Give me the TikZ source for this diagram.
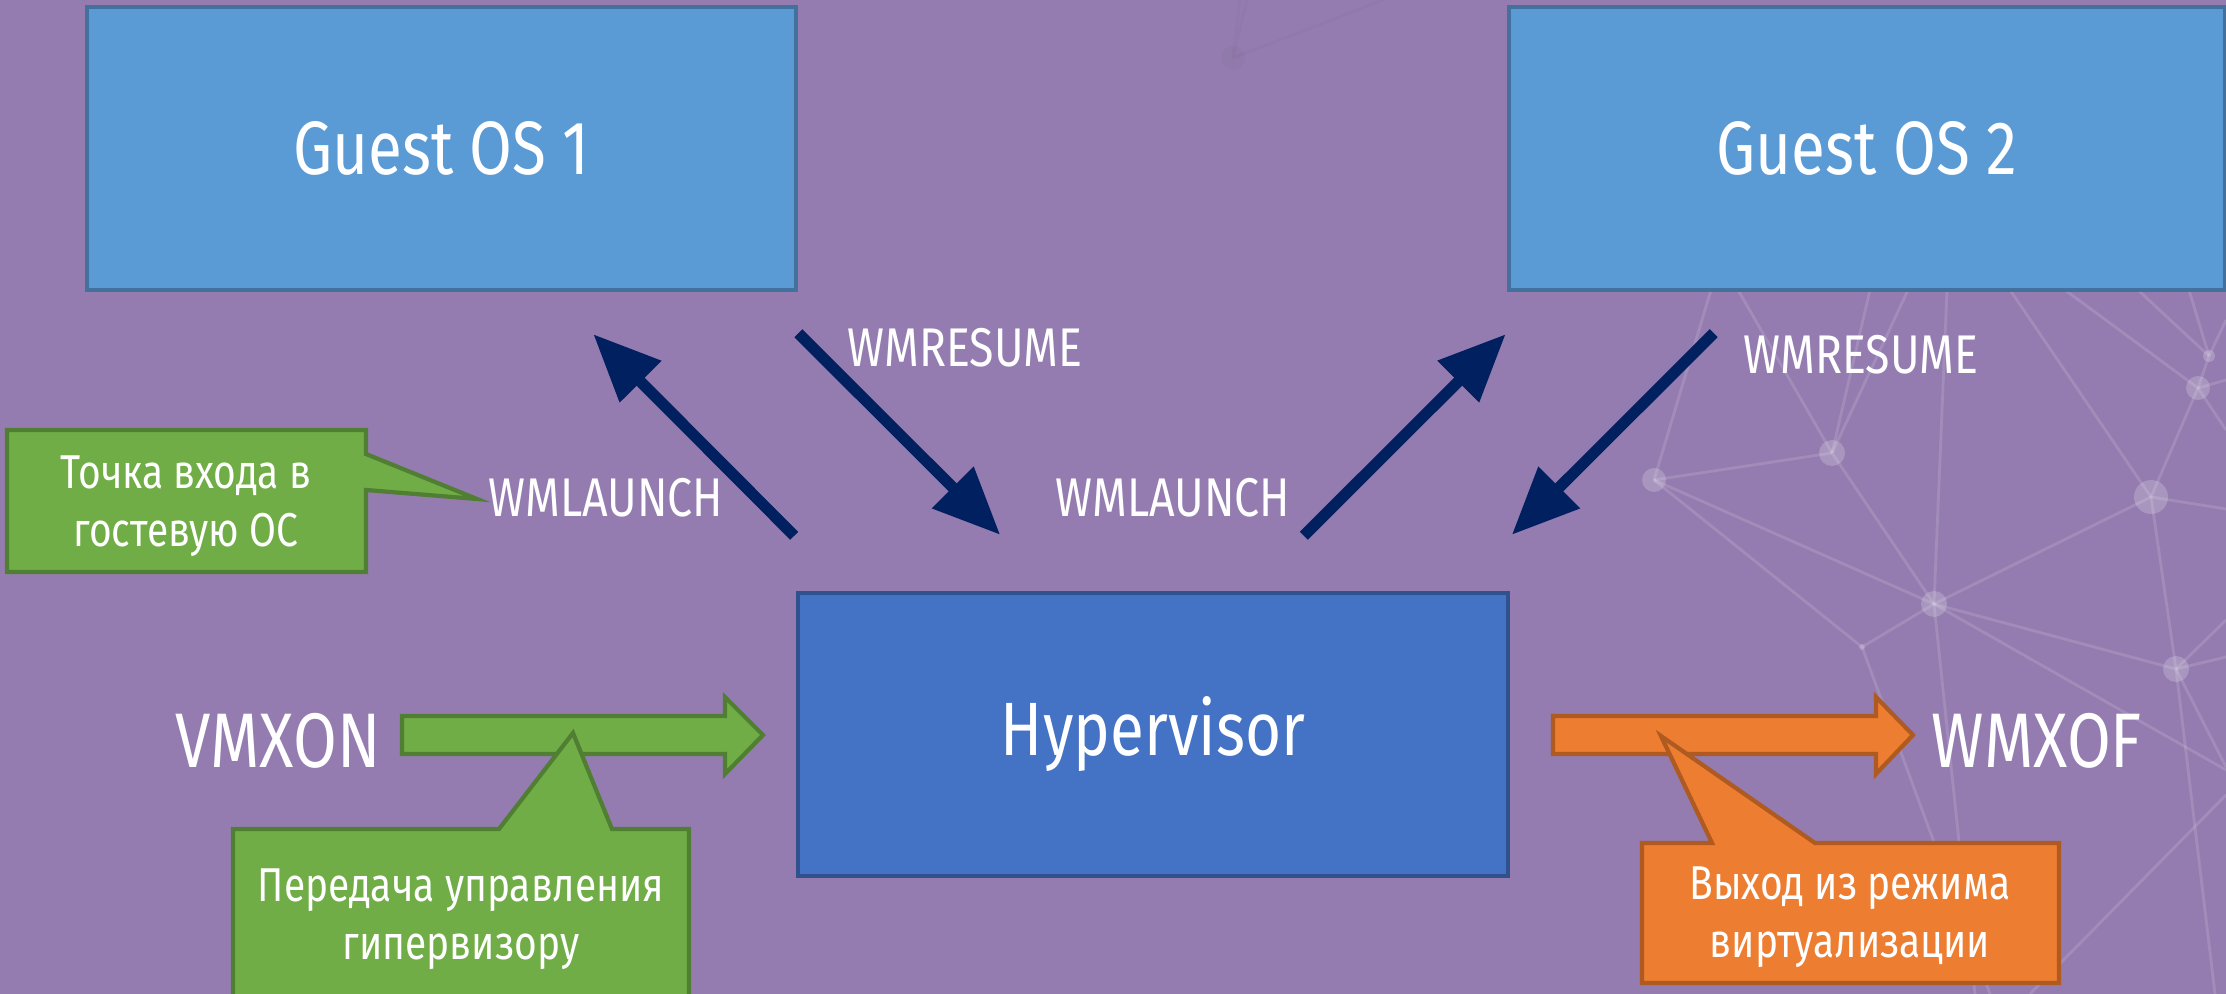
\documentclass[tikz,border=0pt]{standalone}
\usepackage{fontspec}
\setmainfont[FakeStretch=0.82]{Fira Sans}
\usetikzlibrary{arrows.meta}
\usetikzlibrary{calc}

\definecolor{bgpurple}{HTML}{947CB0}
\definecolor{guestblue}{HTML}{5B9BD5}
\definecolor{guestedge}{HTML}{41719C}
\definecolor{hyperblue}{HTML}{4472C4}
\definecolor{hyperedge}{HTML}{2F528F}
\definecolor{callgreen}{HTML}{70AD47}
\definecolor{greenedge}{HTML}{507E32}
\definecolor{callorange}{HTML}{ED7D31}
\definecolor{orangeedge}{HTML}{AE5A21}
\definecolor{navyarrow}{HTML}{002060}

\begin{document}
\begin{tikzpicture}[x=0.01cm,y=-0.01cm]
	\tikzstyle{osbox}=[rectangle,draw=guestedge,fill=guestblue,line width=1.2pt,minimum width=7.09cm,minimum height=2.83cm,text=white,font=\fontsize{21.5}{26}\selectfont]
	\tikzstyle{hvbox}=[osbox,draw=hyperedge,fill=hyperblue]
	\tikzstyle{cmd}=[text=white,inner sep=0pt,font=\fontsize{15.5}{18}\selectfont]
	\tikzstyle{bigcmd}=[text=white,inner sep=0pt,font=\fontsize{22}{26}\selectfont]
	\tikzstyle{note}=[text=white,align=center,inner sep=0pt,font=\fontsize{13.5}{16.5}\selectfont]
	\tikzstyle{flow}=[navyarrow,line width=3.2pt,-{Triangle[length=6.7mm,width=5.6mm]}]
	\tikzstyle{web}=[white,opacity=0.13,line width=0.8pt]
	\tikzstyle{knot}=[white,opacity=0.2]

	\useasboundingbox (0,0) rectangle (2226,994);
	\fill[bgpurple] (0,0) rectangle (2226,994);

	% faint network in the background
	\coordinate (n0) at (1233,58);
	\coordinate (n1) at (1654,480);
	\coordinate (n2) at (1832,453);
	\coordinate (n3) at (1934,604);
	\coordinate (n4) at (2151,497);
	\coordinate (n5) at (2176,669);
	\coordinate (n6) at (2198,388);
	\coordinate (n7) at (2209,356);
	\coordinate (n8) at (1862,647);
	\foreach \a/\b in {n1/n2,n1/n3,n1/n8,n8/n3,n2/n3,n3/n4,n3/n5,n4/n6,n4/n5,n6/n7}
		\draw[web] (\a) -- (\b);
	\foreach \a/\x/\y in {n1/1711/290,n2/1738/290,n2/1870/290,n2/1908/290,n3/1947/290,n4/2010/290,
		n6/2065/290,n7/2138/290,n7/2189/290,n7/2226/320,n6/2226/380,n6/2226/430,n4/2226/509,
		n5/2226/657,n5/2226/620,n5/2226/767,n5/2215/994,n8/1990/994,n3/1975/994,n3/2226/770}
		\draw[web] (\a) -- (\x,\y);
	\draw[web] (2226,795) -- (2030,994);
	\foreach \a/\r in {n1/12,n2/13,n3/13,n4/17,n5/13,n6/12,n7/6,n8/3}
		\fill[knot] (\a) circle[radius=\r];
	\draw[black,opacity=0.025,line width=0.8pt] (n0) -- (1247,0) (n0) -- (1240,0) (n0) -- (1383,0);
	\fill[black,opacity=0.025] (n0) circle[radius=12];

	\node[osbox] (guest1) at (441.5,148.5) {Guest OS 1};
	\node[osbox,minimum width=7.16cm] (guest2) at (1867,148.5) {Guest OS 2};
	\node[hvbox] (hyper) at (1153,734.5) {Hypervisor};

	\draw[flow] ($(hyper.north west)+(-2,-55)$) -- ($(guest1.south east)+(-205,42)$);
	\draw[flow] ($(guest1.south east)+(0,41)$) -- ($(hyper.north west)+(204,-56)$);
	\draw[flow] ($(hyper.north east)+(-206,-55)$) -- ($(guest2.south west)+(-1,42)$);
	\draw[flow] ($(guest2.south west)+(207,41)$) -- ($(hyper.north east)+(2,-56)$);

	\node[cmd] (launch1) at (606,498) {WMLAUNCH};
	\node[cmd] (resume1) at (965,348) {WMRESUME};
	\node[cmd] (launch2) at (1173,498) {WMLAUNCH};
	\node[cmd] (resume2) at (1861,355) {WMRESUME};
	\node[bigcmd] (vmxon) at (278,741) {VMXON};
	\node[bigcmd] (vmxof) at (2037,741) {WMXOF};

	% block arrows
	\draw[greenedge,fill=callgreen,line width=1.2pt] (402,716) -- (725,716) -- (725,697) -- (763,735)
		-- (725,774) -- (725,754) -- (402,754) -- cycle;
	\draw[orangeedge,fill=callorange,line width=1.2pt] (1553,716) -- (1876,716) -- (1876,697) -- (1913,735)
		-- (1876,774) -- (1876,754) -- (1553,754) -- cycle;

	% callouts
	\draw[greenedge,fill=callgreen,line width=1.2pt] (7,430) -- (366,430) -- (366,454) -- (477,499)
		-- (366,490) -- (366,572) -- (7,572) -- cycle;
	\draw[greenedge,fill=callgreen,line width=1.2pt] (233,829) -- (499,829) -- (573,733) -- (612,829)
		-- (689,829) -- (689,1010) -- (233,1010) -- cycle;
	\draw[orangeedge,fill=callorange,line width=1.2pt] (1642,843) -- (1712,843) -- (1661,736) -- (1815,843)
		-- (2059,843) -- (2059,983) -- (1642,983) -- cycle;
	\node[note] (entry) at (186,506) {Точка входа в\\гостевую ОС};
	\node[note] (handover) at (461,919) {Передача управления\\гипервизору};
	\node[note] (leave) at (1850,917) {Выход из режима\\виртуализации};
\end{tikzpicture}
\end{document}
